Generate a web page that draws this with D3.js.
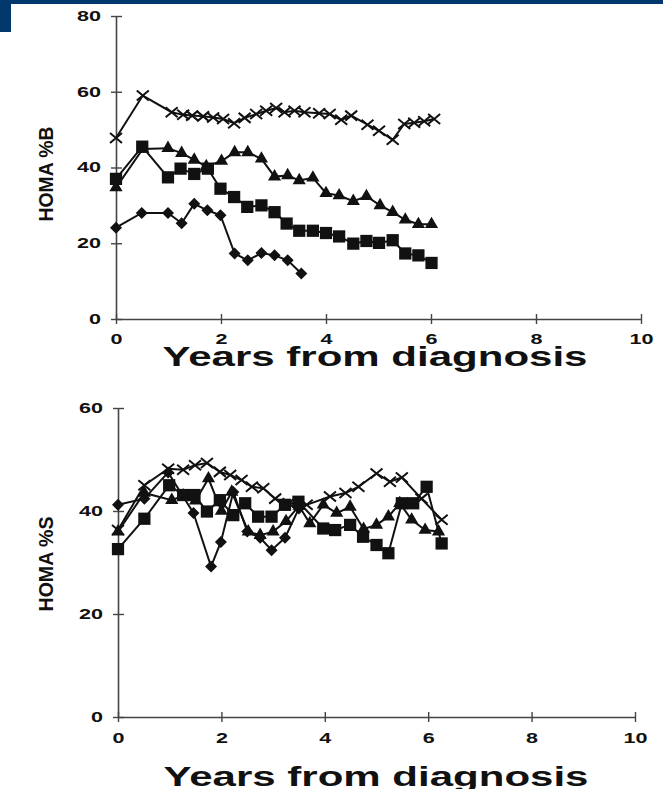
<!DOCTYPE html>
<html>
<head>
<meta charset="utf-8">
<script src="https://cdnjs.cloudflare.com/ajax/libs/d3/7.8.5/d3.min.js"></script>
<style>
  body { margin: 0; background: #fff; }
  svg { display: block; }
  text { font-family: "Liberation Sans", Arial, sans-serif; font-weight: bold; fill: #111; }
</style>
</head>
<body>
<svg width="663" height="789"></svg>
<script>
// ---- data: [years from diagnosis, value] ----
var xTicks = [0, 2, 4, 6, 8, 10];
var yTicksB = [0, 20, 40, 60, 80];
var yTicksS = [0, 20, 40, 60];

// HOMA %B
var bCross = [[0,47.8],[0.51,59],[1.06,54.6],[1.28,53.9],[1.45,53.7],[1.66,53.5],[1.85,53.2],[2.04,52.8],[2.25,51.7],[2.45,53.1],[2.67,54.1],[2.86,55],[3.05,55.7],[3.21,54.6],[3.4,55],[3.59,54.6],[3.87,54.3],[4.07,54.1],[4.29,52.6],[4.48,53.7],[4.79,51.3],[5.01,49.7],[5.27,47.3],[5.49,51.5],[5.68,51.8],[5.87,52.2],[6.06,52.8]];
var bTri = [[0,34.7],[0.51,44.9],[0.99,45.1],[1.25,43.8],[1.49,42],[1.72,40.3],[2.01,41.7],[2.26,44],[2.51,44],[2.77,42.3],[3.02,37.6],[3.27,37.9],[3.49,36.6],[3.75,37.3],[4,33.2],[4.25,32.6],[4.52,31.1],[4.77,32.4],[5.03,30],[5.27,28.2],[5.51,26.2],[5.76,25],[6.01,25]];
var bSquare = [[0,37],[0.5,45.5],[0.99,37.4],[1.23,39.7],[1.49,38.3],[1.75,39.7],[1.99,34.4],[2.25,32.2],[2.5,29.6],[2.77,30],[3.02,28.2],[3.25,25.2],[3.49,23.3],[3.75,23.3],[4,22.7],[4.25,21.8],[4.52,19.9],[4.77,20.6],[5.01,20.1],[5.27,20.8],[5.51,17.3],[5.76,16.8],[6.01,14.8]];
var bDiamond = [[0,24.1],[0.49,28],[0.99,28],[1.25,25.3],[1.49,30.4],[1.74,28.7],[1.99,27.4],[2.26,17.3],[2.51,15.5],[2.77,17.4],[3.02,16.8],[3.27,15.5],[3.53,12]];

// HOMA %S
var sCross = [[0,36.3],[0.51,45],[0.97,48.2],[1.26,48],[1.49,48.9],[1.72,49.3],[1.97,47.6],[2.17,47],[2.39,46],[2.59,44.7],[2.81,44.4],[3.04,42.4],[3.3,41.5],[3.65,41.2],[4.1,42.8],[4.4,43.5],[4.65,44.7],[5,47.3],[5.26,45.7],[5.49,46.5],[5.87,42.4],[6.26,38.3]];
var sTri = [[0,36],[0.51,43.5],[1.04,42.1],[1.26,43],[1.5,42],[1.75,46.3],[2,40],[2.2,43.7],[2.52,36],[2.75,35.3],[3,36],[3.25,38],[3.5,41],[3.71,37.6],[3.97,41.2],[4.23,39.6],[4.49,40.8],[4.75,36.5],[5,37.3],[5.23,38.9],[5.45,41.5],[5.68,38.3],[5.94,36.3],[6.2,36]];
var sSquare = [[0,32.6],[0.51,38.5],[0.99,45],[1.26,43.1],[1.48,43.1],[1.72,39.9],[1.97,42.1],[2.23,39.2],[2.46,41.5],[2.71,38.9],[2.97,38.9],[3.23,41.2],[3.49,41.8],[3.97,36.6],[4.2,36.3],[4.49,37.3],[4.74,35],[5,33.4],[5.23,31.8],[5.49,41.5],[5.71,41.5],[5.97,44.7],[6.26,33.7]];
var sDiamond = [[0,41.2],[0.51,42.4],[0.97,47.5],[1.46,39.6],[1.8,29.2],[1.99,34],[2.23,43.7],[2.5,36],[2.75,34.8],[2.97,32.4],[3.23,34.8],[3.5,40.5]];

var svg = d3.select("svg");

// header band
svg.append("rect").attr("x", 0).attr("y", 0).attr("width", 663).attr("height", 4).attr("fill", "#00386b");
svg.append("rect").attr("x", 0).attr("y", 0).attr("width", 11).attr("height", 32).attr("fill", "#00386b");

var diamondPath = "M0,-6L6,0L0,6L-6,0Z";
var crossPath = "M-6,-5L6,5M-6,5L6,-5";

function panel(o) {
  var x = d3.scaleLinear().domain([0, 10]).range([o.left, o.right]);
  var y = d3.scaleLinear().domain([0, o.ymax]).range([o.bottom, o.top]);
  var g = svg.append("g");

  // y axis
  var ya = g.append("g").attr("transform", "translate(" + o.left + ",0)")
    .call(d3.axisLeft(y).tickValues(o.yTicks).tickSize(5).tickSizeOuter(0).tickPadding(10));
  ya.select(".domain").attr("stroke", "#444").attr("stroke-width", 1.6);
  ya.selectAll(".tick line").attr("x1", 6).attr("stroke", "#444").attr("stroke-width", 1.4);
  ya.selectAll("text").attr("font-size", 14).attr("font-family", null).attr("fill", "#111")
    .attr("textLength", function(d) { return String(d).length * 12; }).attr("lengthAdjust", "spacingAndGlyphs");

  // x axis
  var xa = g.append("g").attr("transform", "translate(0," + o.bottom + ")")
    .call(d3.axisBottom(x).tickValues(xTicks).tickSize(5).tickSizeOuter(0).tickPadding(o.xPad));
  xa.select(".domain").attr("stroke", "#444").attr("stroke-width", 1.6);
  xa.selectAll(".tick line").attr("y1", -5).attr("stroke", "#444").attr("stroke-width", 1.4);
  xa.selectAll("text").attr("font-size", 14).attr("font-family", null).attr("fill", "#111")
    .attr("textLength", function(d) { return String(d).length * 12; }).attr("lengthAdjust", "spacingAndGlyphs");

  // titles
  g.append("text").attr("x", o.titleX).attr("y", o.titleY).attr("text-anchor", "middle")
    .attr("font-size", 27).attr("textLength", 425).attr("lengthAdjust", "spacingAndGlyphs")
    .text("Years from diagnosis");
  g.append("text").attr("transform", "translate(" + o.labX + "," + o.labY + ") rotate(-90)")
    .attr("text-anchor", "middle").attr("font-size", 20).attr("textLength", 95).attr("lengthAdjust", "spacingAndGlyphs")
    .text(o.label);

  var line = d3.line().x(function(d) { return x(d[0]); }).y(function(d) { return y(d[1]); });

  o.series.forEach(function(s) {
    g.append("path").datum(s.data).attr("d", line).attr("fill", "none")
      .attr("stroke", "#111").attr("stroke-width", 2);
  });

  o.series.forEach(function(s) {
    var m = g.append("g").selectAll("path").data(s.data).enter().append("path")
      .attr("transform", function(d) { return "translate(" + x(d[0]) + "," + y(d[1]) + ")"; });
    if (s.type == "cross") {
      m.attr("d", crossPath).attr("stroke", "#111").attr("stroke-width", 2).attr("fill", "none");
    } else if (s.type == "square") {
      m.attr("d", d3.symbol().type(d3.symbolSquare).size(150)).attr("fill", "#111");
    } else if (s.type == "triangle") {
      m.attr("d", d3.symbol().type(d3.symbolTriangle).size(75)).attr("fill", "#111");
    } else {
      m.attr("d", diamondPath).attr("fill", "#111");
    }
  });
}

panel({
  left: 116, right: 641, top: 16, bottom: 319, ymax: 80, yTicks: yTicksB, xPad: 10,
  titleX: 375, titleY: 366, labX: 53, labY: 174, label: "HOMA %B",
  series: [
    {type: "cross", data: bCross},
    {type: "triangle", data: bTri},
    {type: "square", data: bSquare},
    {type: "diamond", data: bDiamond}
  ]
});

panel({
  left: 118, right: 635, top: 408, bottom: 717, ymax: 60, yTicks: yTicksS, xPad: 11,
  titleX: 376, titleY: 786, labX: 53, labY: 564, label: "HOMA %S",
  series: [
    {type: "cross", data: sCross},
    {type: "triangle", data: sTri},
    {type: "square", data: sSquare},
    {type: "diamond", data: sDiamond}
  ]
});
</script>
</body>
</html>
